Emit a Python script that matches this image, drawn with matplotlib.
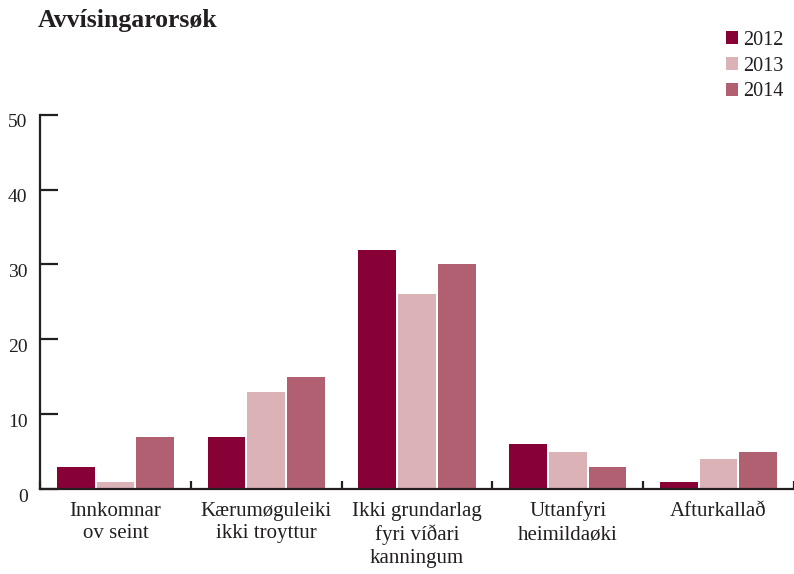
import numpy as np
import matplotlib.pyplot as plt
import matplotlib.transforms as mtransforms
from matplotlib.patches import Patch

plt.rcParams['font.family'] = ['Liberation Serif', 'DejaVu Serif']

# Data
categories = ['Innkomnar\nov seint', 'Kærumøguleiki\nikki troyttur',
              'Ikki grundarlag\nfyri víðari\nkanningum', 'Uttanfyri\nheimildaøki',
              'Afturkallað']
years = ['2012', '2013', '2014']
v2012 = [3, 7, 32, 6, 1]
v2013 = [1, 13, 26, 5, 4]
v2014 = [7, 15, 30, 3, 5]
colors = ['#870036', '#dbb3b7', '#b06070']

fig = plt.figure(figsize=(7.94, 5.74), dpi=100)
ax = fig.add_axes([0.0504, 0.148, 0.9496, 0.652])

x = np.arange(len(categories))
width = 0.25
step = 0.263
for i, (vals, col) in enumerate(zip([v2012, v2013, v2014], colors)):
    ax.bar(x + (i - 1) * step, vals, width, color=col, zorder=2)

ax.set_xlim(-0.5, len(categories) - 0.5)
ax.set_ylim(0, 50)

for side in ['top', 'right']:
    ax.spines[side].set_visible(False)
for side in ['left', 'bottom']:
    ax.spines[side].set_linewidth(1.6)
    ax.spines[side].set_color('#231f20')

# y ticks point inward
ax.set_yticks([0, 10, 20, 30, 40, 50])
ax.tick_params(axis='y', direction='in', length=13, width=1.6, color='#231f20',
               labelsize=14, pad=9, labelcolor='#231f20')
offset = mtransforms.ScaledTranslation(0, -6 / 100, fig.dpi_scale_trans)
for lab in ax.get_yticklabels():
    lab.set_transform(lab.get_transform() + offset)

# x: boundary ticks as major, labels on minor
ax.set_xticks(np.arange(len(categories) + 1) - 0.5)
ax.set_xticklabels([])
ax.tick_params(axis='x', which='major', direction='in', length=6, width=1.6,
               color='#231f20')
ax.set_xticks(x, minor=True)
ax.set_xticklabels(categories, minor=True, fontsize=15, color='#231f20',
                   linespacing=1.27)
ax.tick_params(axis='x', which='minor', length=0, pad=9)

fig.text(0.048, 0.965, 'Avvísingarorsøk', fontsize=18.5, fontweight='bold',
         color='#231f20', va='center', ha='left')

handles = [Patch(facecolor=c, edgecolor='none') for c in colors]
fig.legend(handles, years, loc='upper right', bbox_to_anchor=(0.997, 0.96),
           frameon=False, fontsize=14.5, handlelength=0.62, handleheight=0.62,
           handletextpad=0.25, labelspacing=0.33, borderaxespad=0,
           labelcolor='#231f20')

fig.savefig('out.png', dpi=100)
